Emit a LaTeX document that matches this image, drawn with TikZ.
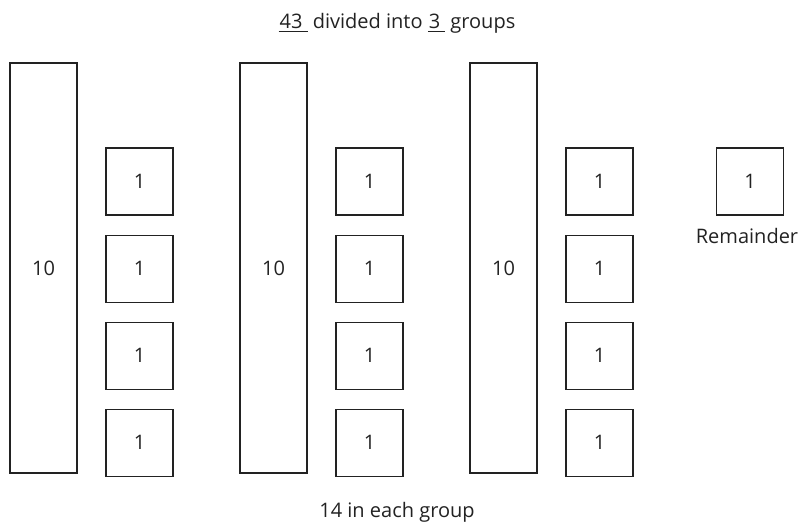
\documentclass[tikz,border=0pt]{standalone}
\usepackage{fontspec}
\setmainfont{Open Sans}
\usepackage{xcolor}
\usetikzlibrary{positioning}
\definecolor{ink}{HTML}{222222}
\newcommand{\blank}[1]{\setbox0\hbox{\hspace{1pt}#1\hspace{5pt}}\rlap{\rule[-4pt]{\wd0}{0.9pt}}\box0\relax}
\tikzset{
  rod/.style={draw=ink, line width=1.1pt, minimum width=67pt, minimum height=410pt, inner sep=0pt},
  unit/.style={draw=ink, line width=1.1pt, minimum size=67pt, inner sep=0pt},
  lab/.style={inner sep=0pt, anchor=base}
}
\begin{document}
\begin{tikzpicture}[x=1pt, y=-1pt, text=ink, font=\fontsize{20}{24}\selectfont]
  \useasboundingbox (0,0) rectangle (805,523);
  \node[lab] (title) at (397,28) {\blank{43} divided into \blank{3} groups};
  % three groups: one rod of ten and four units
  \foreach \g in {1,2,3} {
    \node[rod] (rod\g) at ({43.5+230*(\g-1)},268) {10};
    \node[unit] (u\g a) at ({139.5+230*(\g-1)},181.5) {1};
    \node[unit, below=19pt of u\g a] (u\g b) {1};
    \node[unit, below=19pt of u\g b] (u\g c) {1};
    \node[unit, below=19pt of u\g c] (u\g d) {1};
  }
  \node[unit] (rem) at (750,181.5) {1};
  \node[lab] (remlab) at (747,243) {Remainder};
  \node[lab] (each) at (397,517) {14 in each group};
\end{tikzpicture}
\end{document}
